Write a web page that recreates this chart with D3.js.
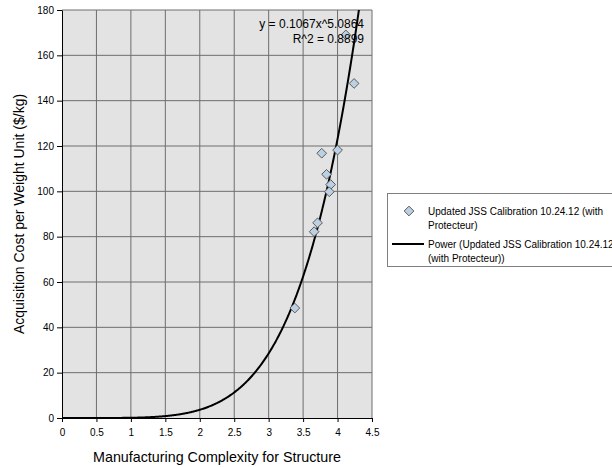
<!DOCTYPE html>
<html>
<head>
<meta charset="utf-8">
<script src="https://cdn.jsdelivr.net/npm/d3@7"></script>
<style>
  body { margin: 0; background: #fff; }
  svg { font-family: "Liberation Sans", Arial, sans-serif; }
  .axis text { font-size: 10px; fill: #000; }
  .axis path, .axis line { stroke: #000; }
</style>
</head>
<body>
<div class="chart"></div>
<script>
// data
const complexity = [3.38, 3.66, 3.71, 3.77, 3.84, 3.90, 3.88, 4.00, 4.12, 4.24]
const cost       = [48.5, 82.2, 86.1, 116.8, 107.5, 103.0, 99.8, 118.2, 169.0, 147.6]
const fitA = 0.1067
const fitB = 5.0864
const xTicks = [0, 0.5, 1, 1.5, 2, 2.5, 3, 3.5, 4, 4.5]
const yTicks = [0, 20, 40, 60, 80, 100, 120, 140, 160, 180]
const legendLabels = [
  ['Updated JSS Calibration 10.24.12 (with', 'Protecteur)'],
  ['Power (Updated JSS Calibration 10.24.12', '(with Protecteur))']
]

const w = 612
const h = 467
const plot = { left: 62, right: 372, top: 10, bottom: 418 }

const x = d3.scaleLinear().domain([0, 4.5]).range([plot.left, plot.right])
const y = d3.scaleLinear().domain([0, 180]).range([plot.bottom, plot.top])

const svg = d3.select('.chart')
  .append('svg')
  .attr('width', w)
  .attr('height', h)

// plot background
svg.append('rect')
  .attr('x', plot.left).attr('y', plot.top)
  .attr('width', plot.right - plot.left)
  .attr('height', plot.bottom - plot.top)
  .attr('fill', '#e3e3e3')

// grid
svg.append('g').selectAll('line.v')
  .data(xTicks.slice(1))
  .join('line')
  .attr('x1', d => x(d)).attr('x2', d => x(d))
  .attr('y1', plot.top).attr('y2', plot.bottom)
  .attr('stroke', '#6e6e6e')

svg.append('g').selectAll('line.h')
  .data(yTicks.slice(1))
  .join('line')
  .attr('x1', plot.left).attr('x2', plot.right)
  .attr('y1', d => y(d)).attr('y2', d => y(d))
  .attr('stroke', '#6e6e6e')

// axes
svg.append('g')
  .attr('class', 'axis')
  .attr('transform', 'translate(0,' + plot.bottom + ')')
  .call(d3.axisBottom(x).tickValues(xTicks).tickSize(4).tickSizeOuter(0).tickFormat(d3.format('')))
  .call(g => g.selectAll('text').attr('dy', '1.1em'))

svg.append('g')
  .attr('class', 'axis')
  .attr('transform', 'translate(' + plot.left + ',0)')
  .call(d3.axisLeft(y).tickValues(yTicks).tickSize(5).tickSizeOuter(0))

// fit curve
const curveXs = d3.range(0, 4.36, 0.01)
const line = d3.line()
  .x(d => x(d))
  .y(d => y(Math.min(fitA * Math.pow(d, fitB), 182)))

svg.append('clipPath').attr('id', 'clip')
  .append('rect')
  .attr('x', plot.left).attr('y', plot.top)
  .attr('width', plot.right - plot.left)
  .attr('height', plot.bottom - plot.top)

svg.append('path')
  .datum(curveXs)
  .attr('clip-path', 'url(#clip)')
  .attr('d', line)
  .attr('fill', 'none')
  .attr('stroke', '#000')
  .attr('stroke-width', 2)

// points
const diamond = d3.symbol().type(d3.symbolDiamond2).size(60)
svg.append('g').selectAll('path.point')
  .data(complexity.map((c, i) => [c, cost[i]]))
  .join('path')
  .attr('class', 'point')
  .attr('transform', d => 'translate(' + x(d[0]) + ',' + y(d[1]) + ')')
  .attr('d', diamond)
  .attr('fill', '#bcd0e4')
  .attr('stroke', '#5a5a5a')
  .attr('stroke-width', 1)

// equation
svg.append('text')
  .attr('x', 364).attr('y', 28)
  .attr('text-anchor', 'end')
  .attr('font-size', 12)
  .text('y = ' + fitA + 'x^' + fitB)
svg.append('text')
  .attr('x', 364).attr('y', 43)
  .attr('text-anchor', 'end')
  .attr('font-size', 12)
  .text('R^2 = 0.8899')

// axis titles
svg.append('text')
  .attr('x', 217).attr('y', 462)
  .attr('text-anchor', 'middle')
  .attr('font-size', 14.3)
  .text('Manufacturing Complexity for Structure')

svg.append('text')
  .attr('transform', 'translate(24,' + ((plot.top + plot.bottom) / 2) + ') rotate(-90)')
  .attr('text-anchor', 'middle')
  .attr('font-size', 14)
  .text('Acquisition Cost per Weight Unit ($/kg)')

// legend
const lg = svg.append('g')
lg.append('rect')
  .attr('x', 387.5).attr('y', 193.5)
  .attr('width', 240).attr('height', 73)
  .attr('fill', '#fff')
  .attr('stroke', '#808080')

lg.append('path')
  .attr('transform', 'translate(409,211)')
  .attr('d', diamond)
  .attr('fill', '#bcd0e4')
  .attr('stroke', '#5a5a5a')

lg.append('line')
  .attr('x1', 392).attr('x2', 424)
  .attr('y1', 244).attr('y2', 244)
  .attr('stroke', '#000').attr('stroke-width', 2)

legendLabels.forEach((lines, i) => {
  lines.forEach((t, j) => {
    lg.append('text')
      .attr('x', 428)
      .attr('y', 215 + i * 33 + j * 14)
      .attr('font-size', 10)
      .text(t)
  })
})
</script>
</body>
</html>
